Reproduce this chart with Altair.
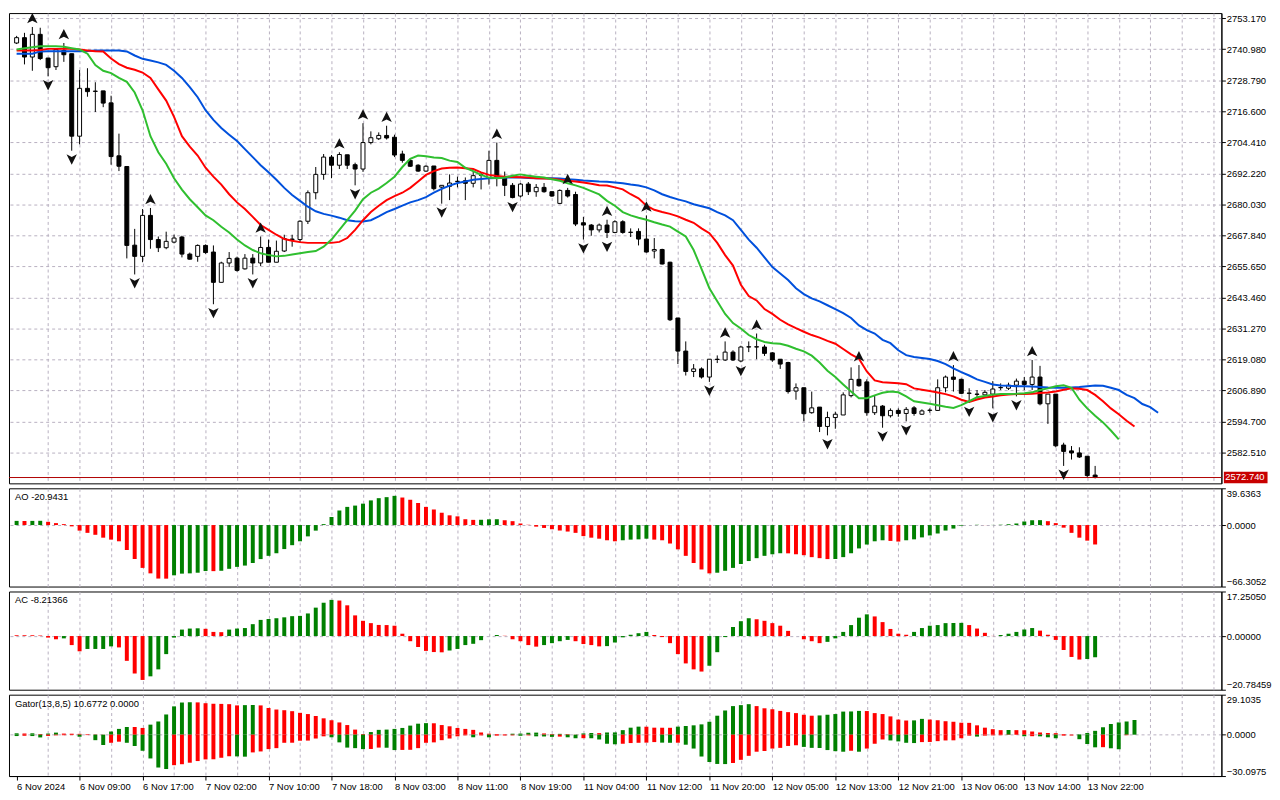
import json
import altair as alt
import pandas as pd

# ---------------- data (H1 bars, index 0..137) ----------------
opens = [
2743.4, 2745.5, 2737.9, 2746.8, 2737.5, 2734.1, 2740.5, 2739.2, 2706.8, 2725.6,
2724.5, 2724.6, 2719.9, 2699.1, 2694.9, 2664.0, 2659.6, 2675.7, 2666.2, 2663.0,
2665.2, 2667.2, 2660.5, 2659.6, 2663.9, 2661.3, 2649.4, 2657.0, 2658.9, 2654.7,
2658.9, 2657.0, 2663.1, 2657.3, 2661.7, 2666.2, 2666.2, 2673.4, 2684.6, 2691.8,
2698.6, 2695.4, 2699.5, 2695.6, 2693.9, 2704.3, 2705.8, 2707.1, 2706.4, 2699.8,
2697.3, 2695.4, 2693.1, 2695.1, 2686.8, 2687.1, 2689.0, 2689.3, 2688.3, 2691.6,
2690.3, 2697.3, 2690.6, 2687.5, 2683.3, 2688.0, 2685.0, 2686.7, 2685.0, 2680.4,
2685.5, 2683.9, 2672.8, 2671.9, 2670.0, 2671.9, 2669.0, 2673.2, 2669.0, 2669.4,
2666.4, 2661.7, 2662.3, 2657.3, 2635.4, 2622.4, 2614.4, 2615.4, 2612.2, 2619.1,
2618.9, 2622.0, 2618.5, 2624.0, 2624.0, 2624.0, 2621.7, 2619.2, 2617.9, 2606.7,
2608.0, 2598.2, 2600.4, 2592.8, 2596.3, 2597.3, 2604.9, 2611.3, 2610.3, 2598.2,
2600.8, 2597.0, 2599.1, 2597.9, 2600.1, 2597.6, 2599.1, 2599.1, 2608.0, 2612.2,
2611.3, 2605.8, 2605.5, 2605.2, 2605.5, 2608.0, 2607.8, 2609.0, 2610.6, 2609.3,
2612.2, 2601.7, 2605.5, 2585.5, 2583.2, 2582.4, 2581.1, 2573.7]
highs = [
2746.2, 2747.4, 2749.7, 2749.4, 2737.5, 2740.9, 2743.4, 2739.2, 2732.8, 2733.5,
2728.0, 2724.6, 2722.7, 2707.8, 2694.9, 2670.4, 2678.2, 2678.6, 2667.4, 2669.3,
2668.1, 2667.7, 2661.1, 2664.3, 2664.3, 2663.9, 2657.5, 2661.3, 2659.5, 2660.5,
2660.5, 2667.4, 2666.2, 2665.8, 2668.1, 2668.1, 2673.8, 2685.5, 2694.7, 2699.8,
2699.4, 2700.5, 2699.5, 2696.4, 2711.9, 2708.7, 2708.3, 2710.9, 2707.4, 2701.1,
2697.9, 2695.8, 2695.4, 2695.1, 2687.5, 2691.8, 2690.9, 2690.6, 2693.1, 2692.6,
2701.1, 2704.3, 2692.9, 2688.4, 2688.4, 2688.8, 2688.0, 2688.4, 2685.2, 2685.9,
2686.5, 2685.0, 2675.1, 2672.3, 2672.5, 2674.0, 2673.8, 2673.8, 2670.6, 2670.6,
2675.7, 2666.8, 2662.6, 2657.5, 2635.4, 2626.2, 2617.3, 2616.0, 2619.2, 2620.7,
2626.2, 2622.7, 2624.5, 2626.2, 2629.3, 2624.9, 2622.0, 2619.2, 2618.2, 2609.7,
2608.0, 2606.5, 2600.4, 2598.6, 2598.6, 2606.2, 2616.0, 2616.9, 2611.3, 2605.0,
2601.2, 2599.9, 2599.9, 2600.4, 2600.8, 2599.5, 2599.9, 2611.3, 2612.8, 2616.9,
2611.6, 2607.8, 2607.1, 2607.1, 2610.6, 2609.7, 2610.0, 2611.6, 2612.2, 2618.9,
2616.6, 2605.5, 2605.5, 2586.4, 2585.1, 2584.6, 2581.1, 2577.3]
lows = [
2743.0, 2735.0, 2732.5, 2736.7, 2730.3, 2732.8, 2736.0, 2701.1, 2703.6, 2722.3,
2716.3, 2718.2, 2695.6, 2693.1, 2658.8, 2652.5, 2657.3, 2662.6, 2661.3, 2662.4,
2664.7, 2659.2, 2658.3, 2657.5, 2660.6, 2640.8, 2649.4, 2655.4, 2653.6, 2654.4,
2652.5, 2655.8, 2657.3, 2657.3, 2661.3, 2663.4, 2664.9, 2672.3, 2682.0, 2689.7,
2690.3, 2693.9, 2693.9, 2687.5, 2692.8, 2703.6, 2705.3, 2705.5, 2698.6, 2696.4,
2694.7, 2692.8, 2692.8, 2685.5, 2680.3, 2681.7, 2686.7, 2681.7, 2686.7, 2685.9,
2687.8, 2687.1, 2683.3, 2682.4, 2682.7, 2683.7, 2683.0, 2684.6, 2683.0, 2680.1,
2682.7, 2671.5, 2666.2, 2667.7, 2669.0, 2666.8, 2668.7, 2668.5, 2667.2, 2663.9,
2661.1, 2658.8, 2656.4, 2634.2, 2617.3, 2612.8, 2612.2, 2611.6, 2610.3, 2617.7,
2618.5, 2618.5, 2618.0, 2622.0, 2619.2, 2620.5, 2618.2, 2615.4, 2605.7, 2603.3,
2594.8, 2597.8, 2590.6, 2589.3, 2591.9, 2597.3, 2604.2, 2608.4, 2597.0, 2597.3,
2592.3, 2596.3, 2596.6, 2594.8, 2597.0, 2597.3, 2598.2, 2598.9, 2606.2, 2606.5,
2605.5, 2602.0, 2603.7, 2604.9, 2599.9, 2607.1, 2607.1, 2604.6, 2607.1, 2607.1,
2601.1, 2593.8, 2584.6, 2577.3, 2579.8, 2580.4, 2572.8, 2572.4]
closes = [
2745.5, 2737.9, 2746.8, 2737.3, 2733.7, 2740.9, 2738.8, 2706.8, 2725.6, 2724.3,
2724.4, 2719.8, 2698.8, 2695.0, 2663.9, 2659.6, 2675.7, 2666.2, 2663.0, 2665.5,
2666.8, 2660.5, 2658.5, 2663.9, 2661.1, 2649.4, 2657.0, 2658.8, 2654.1, 2658.9,
2657.0, 2663.1, 2657.3, 2661.6, 2666.6, 2666.4, 2673.4, 2684.6, 2691.8, 2698.6,
2695.4, 2699.6, 2695.4, 2693.9, 2704.3, 2706.2, 2707.1, 2706.1, 2699.4, 2697.3,
2695.0, 2693.1, 2695.0, 2686.2, 2687.5, 2688.4, 2689.1, 2688.3, 2691.3, 2691.5,
2697.3, 2690.6, 2687.5, 2682.7, 2688.0, 2685.0, 2686.7, 2685.0, 2683.3, 2685.5,
2683.3, 2672.3, 2671.9, 2670.0, 2671.9, 2669.0, 2673.2, 2669.0, 2669.1, 2666.4,
2661.3, 2662.3, 2656.6, 2634.7, 2622.4, 2614.4, 2615.4, 2612.2, 2619.2, 2619.2,
2622.0, 2618.9, 2624.0, 2624.1, 2624.1, 2621.5, 2618.9, 2617.3, 2606.5, 2608.0,
2597.8, 2600.1, 2592.8, 2596.3, 2597.6, 2605.2, 2611.3, 2608.8, 2598.2, 2600.8,
2597.0, 2599.1, 2597.9, 2599.5, 2597.9, 2598.9, 2599.2, 2608.0, 2612.2, 2611.3,
2605.8, 2605.9, 2605.4, 2606.2, 2607.5, 2608.1, 2609.0, 2610.6, 2609.3, 2612.2,
2601.7, 2605.5, 2585.2, 2583.0, 2582.4, 2580.8, 2573.5, 2572.74]

# Alligator lines as displayed (already shifted forward)
jaw = [
2739.2, 2739.2, 2739.2, 2740.1, 2740.2, 2740.2, 2740.2, 2740.2, 2740.2, 2740.3,
2740.5, 2740.5, 2740.5, 2740.5, 2740.1, 2738.5, 2737.2, 2736.5, 2735.8, 2734.8,
2732.5, 2729.7, 2726.1, 2722.1, 2717.0, 2713.2, 2710.0, 2707.4, 2704.9, 2701.7,
2698.6, 2695.4, 2692.6, 2689.7, 2686.5, 2683.7, 2681.4, 2679.1, 2677.3, 2676.3,
2675.6, 2674.8, 2673.8, 2673.4, 2673.3, 2673.8, 2675.3, 2677.0, 2678.2, 2679.5,
2680.8, 2681.7, 2682.9,
2684.6, 2686.1, 2687.4, 2688.4, 2689.0, 2689.7, 2690.0, 2690.3, 2690.4, 2690.55,
2690.55, 2690.55, 2690.4, 2690.3, 2690.3, 2690.3, 2690.2, 2689.9, 2689.7, 2689.4,
2689.2, 2689.0, 2688.9, 2688.6, 2688.3, 2687.8, 2687.4, 2686.7, 2685.5, 2684.0,
2682.9, 2682.0, 2681.2, 2680.1, 2679.3, 2678.5, 2677.0, 2675.7, 2673.8, 2670.0,
2666.2, 2663.0, 2659.2, 2655.4, 2652.9, 2650.3, 2647.1, 2644.8,
2643.1, 2641.9, 2640.4, 2638.9, 2637.3, 2635.4,
2632.5, 2630.6, 2629.3, 2626.8, 2625.5, 2622.7, 2620.8, 2620.1, 2619.7, 2619.3,
2618.5, 2617.3, 2615.6, 2614.1, 2612.8, 2611.3, 2610.3, 2609.3, 2608.9, 2608.8,
2608.6, 2608.6, 2608.5, 2608.3, 2608.1, 2608.0, 2608.0, 2608.1, 2608.3, 2608.6,
2608.9, 2608.8, 2608.0, 2607.1, 2605.2, 2603.9, 2601.6, 2600.4, 2598.2]
teeth = [
2740.5, 2740.5, 2740.5, 2740.7, 2741.1, 2741.1, 2741.1, 2741.1, 2740.85, 2740.5,
2740.2, 2740.1, 2737.3, 2735.1, 2733.7, 2732.9, 2731.8, 2729.7, 2725.2, 2720.8,
2714.4, 2706.8, 2702.7, 2699.2, 2694.4, 2690.9, 2687.8, 2684.0, 2680.8, 2678.2,
2675.1, 2671.9, 2670.0, 2668.1, 2666.4, 2665.7, 2665.2, 2664.9, 2664.9, 2664.9,
2664.9, 2665.3, 2666.8, 2670.0, 2673.8, 2677.0, 2679.5, 2681.7, 2683.3, 2684.6,
2686.5, 2689.0, 2691.6,
2693.1, 2694.1, 2694.4, 2694.5, 2694.2, 2693.9, 2692.6, 2691.6, 2691.2, 2690.9,
2690.8, 2690.7, 2690.55, 2690.3, 2690.2, 2690.05, 2689.7, 2689.3, 2689.0, 2688.6,
2688.1, 2687.5, 2687.4, 2686.7, 2685.9, 2684.0, 2682.4, 2679.5, 2677.9, 2677.0,
2676.3, 2675.3, 2674.0, 2672.8, 2670.6, 2668.7, 2664.9, 2660.1, 2656.0, 2648.4,
2644.0, 2642.3, 2638.9, 2637.0, 2634.7, 2632.9, 2631.4, 2630.0,
2628.7, 2627.7, 2626.4, 2625.3, 2623.2, 2621.1, 2619.4, 2614.4, 2610.9, 2610.2,
2610.0, 2609.8, 2609.4, 2607.75, 2607.2, 2606.7, 2606.1, 2605.5, 2604.6, 2603.3,
2602.4, 2603.4, 2604.2, 2604.6, 2605.0, 2605.3, 2605.5, 2605.5, 2605.6, 2605.9,
2606.1, 2606.5, 2607.2, 2607.75, 2607.6, 2607.1, 2605.2, 2602.7, 2599.9, 2597.6,
2595.05, 2592.8]
lips = [
2740.85, 2741.35, 2741.7, 2742.1, 2742.1, 2742.1, 2741.9, 2741.35, 2740.85, 2739.2,
2734.75, 2732.5, 2731.6, 2729.7, 2728.15, 2723.95, 2717.0, 2706.8, 2700.5, 2696.0,
2690.3, 2685.85, 2682.05, 2678.9, 2675.7, 2673.8, 2671.25, 2669.0, 2666.2, 2663.9,
2662.1, 2660.8, 2660.1, 2659.6, 2659.8, 2660.3, 2660.8, 2661.3, 2661.7, 2663.4,
2666.2, 2670.0, 2673.8, 2677.6, 2682.05, 2684.6, 2686.2, 2688.4, 2690.9, 2694.7,
2697.9, 2699.2, 2698.9,
2698.4, 2698.2, 2697.2, 2696.65, 2694.4, 2693.1, 2691.6, 2690.55, 2690.3, 2690.55,
2691.3, 2691.8, 2691.3, 2690.9, 2690.55, 2689.9, 2689.3, 2688.3, 2687.5, 2686.5,
2685.2, 2683.95, 2681.4, 2679.5, 2677.0, 2675.7, 2674.8, 2674.0, 2673.0, 2672.1,
2671.3, 2669.35, 2667.4, 2662.1, 2654.7, 2647.1, 2642.0, 2637.0, 2633.4, 2631.3,
2628.7, 2627.05, 2626.0, 2625.5, 2625.3, 2624.5, 2623.3, 2622.3,
2620.6, 2617.9, 2614.7, 2612.2, 2609.3, 2606.5, 2603.9, 2603.9, 2605.0, 2606.0,
2606.5, 2606.2, 2604.6, 2602.7, 2602.2, 2601.7, 2601.15, 2600.5, 2600.1, 2601.15,
2602.7, 2604.3, 2604.8, 2605.3, 2605.5, 2605.5, 2605.6, 2605.85, 2606.2, 2607.1,
2607.75, 2608.6, 2609.0, 2608.0, 2603.3, 2599.9, 2597.0, 2594.4, 2591.2, 2587.7]

frac_up = [2, 6, 17, 31, 41, 44, 47, 61, 70, 75, 80, 90, 94, 107, 119, 129]
frac_dn = [4, 7, 15, 25, 30, 43, 54, 63, 72, 75, 88, 92, 103, 110, 113, 121, 124, 127, 133]

ao = [
4.5, 4.4, 4.5, 4.6, 3.5, 2.1, 1.0, -1.4, -6.0, -8.4,
-10.5, -13.6, -15.7, -17.5, -26.9, -36.7, -46.2, -52.1, -57.7, -57.8,
-54.2, -52.4, -52.1, -51.4, -49.6, -49.7, -49.3, -47.2, -45.1, -43.7,
-40.9, -36.7, -33.2, -30.4, -25.9, -21.7, -17.5, -12.2, -6.0, 1.0,
8.7, 15.7, 19.6, 21.0, 23.1, 26.6, 29.0, 30.1, 31.5, 29.7,
27.3, 23.8, 19.6, 16.8, 13.3, 10.5, 9.4, 6.3, 5.6, 5.7,
6.2, 6.3, 5.2, 4.2, 1.7, 0.3, -1.7, -3.1, -4.5, -5.9,
-7.0, -8.4, -11.9, -13.6, -14.7, -16.4, -17.5, -16.4, -15.7, -15.4,
-14.7, -15.7, -16.4, -19.9, -26.2, -33.2, -40.9, -47.9, -52.1, -51.4,
-49.3, -46.2, -42.0, -38.8, -35.7, -33.2, -31.5, -30.4, -30.5, -31.5,
-32.5, -34.6, -35.7, -36.7, -36.6, -34.6, -30.4, -25.2, -21.0, -17.5,
-16.4, -17.1, -17.8, -16.4, -15.4, -13.3, -11.2, -9.1, -5.9, -3.8,
-0.7, 0.0, 0.3, 0.1, 0.15, 0.4, 0.9, 1.7, 3.8, 5.2,
5.3, 4.2, 2.1, -2.8, -8.4, -13.6, -16.8, -20.9431]
ao_col = ("GRGGRRRRRR" "RRRRRRRRRR" "GGGGGRGGGG" "GGGGGGGGGG" "GGGGGGGGGR"
          "RRRRRRRRRG" "GGRRRRRRRR" "RRRRRRRGGG" "GRRRRRRRRG" "GGGGGGGGRR"
          "RRRRGGGGGG" "GRRGGGGGGG" "GGGRGGGGGG" "GRRRRRRR")

ac = [
0.3, 0.3, 0.3, 0.2, -0.6, -1.25, -0.9, -3.5, -5.9, -5.0,
-5.0, -5.0, -4.0, -4.4, -9.6, -14.5, -17.0, -15.6, -12.9, -7.0,
-0.6, 2.5, 2.9, 3.0, 2.8, 1.6, 1.5, 2.5, 2.9, 3.1,
4.6, 6.25, 6.6, 6.9, 7.25, 7.7, 7.8, 8.75, 11.0, 12.9,
14.0, 13.75, 11.9, 8.0, 5.9, 5.0, 4.3, 4.25, 4.0, 0.9,
-2.0, -4.25, -5.75, -6.2, -6.3, -5.6, -5.0, -3.5, -3.0, -1.6,
0.0, 0.4, 0.1, -1.25, -2.0, -3.5, -4.1, -3.5, -2.75, -2.0,
-1.5, -2.0, -3.1, -3.5, -4.0, -3.9, -2.5, -0.5, 0.5, 1.1,
1.6, 0.4, -0.4, -2.75, -7.0, -10.6, -12.9, -13.75, -11.5, -6.25,
-0.4, 3.5, 5.75, 6.9, 6.5, 5.9, 5.0, 4.0, 2.0, 0.0,
-1.25, -2.0, -2.75, -2.25, -0.9, 1.6, 4.25, 7.1, 8.4, 7.6,
5.4, 2.75, 0.9, 0.5, 1.6, 3.1, 4.0, 4.25, 5.0, 5.05,
5.1, 4.25, 2.9, 1.25, 0.05, 0.4, 0.9, 1.6, 2.5, 3.1,
2.1, 0.5, -1.5, -5.4, -8.1, -9.1, -8.9, -8.21366]
ac_col = ("RRRRRRGRRG" "GGGRRRRGGG" "GGGGRRRGGG" "GGGGGGGGGG" "GRRRRRRRRR"
          "RRRRRGGGGG" "GGRRRRRGGG" "GRRRRGGGGG" "GRRRRRRRGG" "GGGGRRRRRR"
          "RRRGGGGGGR" "RRRRGGGGGG" "GRRRRGGGGG" "RRRRRRGG")

gator_up = [
1.0, 0.9, 1.0, 0.5, 0.8, 1.5, 0.8, 0.7, 0.6, 0.3,
0.2, 0.1, 2.3, 4.2, 5.6, 5.5, 4.9, 7.3, 9.6, 14.7,
20.6, 23.4, 23.6, 23.5, 22.9, 22.5, 22.4, 22.2, 21.3, 21.5,
21.6, 21.3, 19.4, 18.3, 17.8, 17.1, 15.9, 15.0, 13.6, 11.9,
10.5, 8.9, 7.0, 3.7, 0.5, 1.9, 3.5, 3.7, 4.2, 4.9,
6.6, 8.0, 8.4, 8.3, 7.0, 6.1, 4.9, 4.2, 3.5, 1.6,
0.7, 0.5, 0.3, 0.7, 0.8, 1.4, 1.5, 0.9, 0.5, 0.6,
0.45, 0.1, 0.9, 1.2, 1.15, 1.6, 1.65, 3.3, 5.1, 5.85,
5.8, 5.1, 5.05, 5.0, 5.85, 6.3, 6.8, 7.5, 9.4, 13.8,
17.6, 20.8, 21.5, 22.2, 20.8, 19.2, 18.5, 17.3, 16.4, 15.7,
14.5, 13.8, 14.0, 14.5, 15.0, 16.8, 16.9, 17.3, 17.2, 15.7,
15.0, 13.3, 11.0, 10.3, 10.4, 11.5, 11.0, 10.5, 9.8, 9.4,
8.7, 8.6, 6.8, 5.1, 4.0, 3.3, 3.4, 3.3, 3.2, 2.3,
1.6, 1.2, 1.1, 0.5, 0.1, 0.3, 1.2, 2.8, 5.4, 7.75,
8.9, 9.6, 10.6772]
gator_up_col = ("GRGRGGRRRR" "RRGGGRRGGG" "GGGRRRRRRG" "GRRRRRRRRR" "RRRRRGGGGG"
                "GGGRRRRRRR" "RRRGGGGRRG" "RRGGRGGGGG" "RRRRGGGGGG" "GGGGRRRRRR"
                "RRGGGGGGRR" "RRRRGGRRRR" "RRRRRRGRRR" "RRRRRGGGGG" "GGG")
gator_dn = [
-1.0, -0.8, -1.0, -2.0, -0.9, -0.5, -0.4, -0.3, -1.5, -0.3,
-4.0, -7.5, -5.9, -5.1, -5.9, -8.2, -11.7, -17.3, -23.9, -25.0,
-22.2, -21.5, -20.4, -19.2, -18.0, -17.9, -16.8, -15.7, -15.8, -16.0,
-12.9, -12.2, -10.5, -9.8, -5.9, -5.85, -4.4, -4.3, -2.8, -1.2,
-1.9, -5.6, -9.4, -9.8, -10.5, -10.4, -9.4, -9.5, -11.2, -11.1,
-11.0, -9.8, -5.9, -5.6, -4.0, -2.8, -1.2, -0.5, -1.9, -0.5,
-1.9, -0.7, -0.6, -0.5, -0.8, -0.5, -1.2, -1.3, -1.6, -1.4,
-1.9, -2.6, -2.55, -2.6, -3.5, -6.6, -7.0, -6.6, -6.1, -5.9,
-5.8, -5.4, -5.8, -5.9, -5.85, -7.3, -10.1, -15.9, -19.9, -21.3,
-21.4, -20.6, -18.3, -15.4, -12.4, -11.9, -10.1, -9.6, -8.2, -7.7,
-8.9, -9.6, -9.7, -11.2, -12.0, -12.4, -11.7, -12.4, -10.1, -6.6,
-3.5, -4.2, -4.9, -5.9, -6.1, -5.4, -5.3, -4.7, -4.2, -4.1,
-2.6, -0.7, -1.4, -0.7, -0.5, -0.4, -0.2, -0.1, -1.2, -1.1,
-1.2, -1.9, -2.6, -0.7, -0.6, -3.3, -6.8, -9.2, -9.1, -9.9,
-10.6, -0.4]
gator_dn_col = ("GRGGRRRRGR" "GGRRGGGGGG" "RRRRRRRRGG" "RRRRRRRRRR" "GGGGGRRGGR"
                "RRRRRRRRGR" "GRRRGRGGGR" "GGRGGGGRRR" "RRGGRGGGGG" "GRRRRRRRRR"
                "GGGGGGRGRR" "RGGGGRRRRR" "RRGRRRRRGR" "GGGRRGGGRG" "GR")

price_ticks = [2582.510, 2594.700, 2606.890, 2619.080, 2631.270, 2643.460, 2655.650,
               2667.840, 2680.030, 2692.220, 2704.410, 2716.600, 2728.790, 2740.980, 2753.170]
time_labels = ["6 Nov 2024", "6 Nov 09:00", "6 Nov 17:00", "7 Nov 02:00", "7 Nov 10:00",
               "7 Nov 18:00", "8 Nov 03:00", "8 Nov 11:00", "8 Nov 19:00", "11 Nov 04:00",
               "11 Nov 12:00", "11 Nov 20:00", "12 Nov 05:00", "12 Nov 13:00", "12 Nov 21:00",
               "13 Nov 06:00", "13 Nov 14:00", "13 Nov 22:00"]
bid = 2572.74
ao_range = [-66.3052, 39.6363]
ac_range = [-20.78459, 17.25050]
gator_range = [-30.0975, 29.1035]

# ---------------- layout / style ----------------
W = 1222
H_MAIN, H_AO, H_AC, H_G = 474, 99, 99, 82
XDOM = [-0.3375, 152.41]
PRICE_DOM = [2570.45, 2755.16]
FONT = "Liberation Sans"
FS = 9.5
GRID = "#b8b0c0"
GREEN, RED = "#008000", "#ff0000"
col_scale = alt.Scale(domain=["G", "R"], range=[GREEN, RED])

xs = alt.Scale(domain=XDOM, nice=False, zero=False)
ys = alt.Scale(domain=PRICE_DOM, nice=False, zero=False)

grid_x = list(range(4, 153, 4))
hidden_x = alt.Axis(values=grid_x, labels=False, ticks=False, domain=False, grid=True,
                    gridDash=[3, 3], gridColor=GRID, title=None)


def X(axis=hidden_x):
    return alt.X("i:Q", scale=xs, axis=axis)


price_axis = alt.Axis(orient="right", values=price_ticks, format=".3f", grid=True,
                      gridDash=[3, 3], gridColor=GRID, tickSize=4, tickColor="black",
                      domainColor="black", labelPadding=1, title=None)


def PY(field):
    return alt.Y(f"{field}:Q", scale=ys, axis=price_axis)


# ---------------- main panel ----------------
cdf = pd.DataFrame({"i": range(len(closes)), "o": opens, "h": highs, "l": lows, "c": closes})

wicks = alt.Chart(cdf).mark_rule(color="black", strokeWidth=1).encode(
    x=X(), y=PY("l"), y2="h:Q")
bodies = alt.Chart(cdf).mark_bar(width=4, stroke="black", strokeWidth=1).encode(
    x=X(), y=PY("o"), y2="c:Q",
    fill=alt.condition("datum.c >= datum.o", alt.value("white"), alt.value("black")))


def line(vals, color):
    df = pd.DataFrame({"i": range(len(vals)), "v": vals})
    return alt.Chart(df).mark_line(color=color, strokeWidth=2).encode(x=X(), y=PY("v"))


jaw_l = line(jaw, "#0050dc")
teeth_l = line(teeth, "#ff0000")
lips_l = line(lips, "#2fbf2f")

UP = "M0,-2.7L1,-0.7L0,-1.2L-1,-0.7Z"
DN = "M0,2.7L1,0.7L0,1.2L-1,0.7Z"
fu = pd.DataFrame({"i": frac_up, "p": [highs[k] for k in frac_up]})
fd = pd.DataFrame({"i": frac_dn, "p": [lows[k] for k in frac_dn]})
frac_u = alt.Chart(fu).mark_point(shape=UP, filled=True, size=110, color="#111111",
                                  opacity=1, strokeWidth=0).encode(x=X(), y=PY("p"))
frac_d = alt.Chart(fd).mark_point(shape=DN, filled=True, size=110, color="#111111",
                                  opacity=1, strokeWidth=0).encode(x=X(), y=PY("p"))

bid_df = pd.DataFrame({"p": [bid], "t": [f"{bid:.3f}"]})
bid_line = alt.Chart(bid_df).mark_rule(color="#b00000", strokeWidth=1).encode(y=PY("p"))
bid_box = alt.Chart(bid_df).mark_point(
    shape="M-1,-0.26L1,-0.26L1,0.26L-1,0.26Z", filled=True, size=44 * 44,
    color="#c80000", opacity=1, strokeWidth=0).encode(x=alt.value(W + 24.5), y=PY("p"))
bid_txt = alt.Chart(bid_df).mark_text(align="left", baseline="middle", color="white",
                                      font=FONT, fontSize=FS).encode(
    x=alt.value(W + 4), y=PY("p"), text="t:N")

main = alt.layer(wicks, bodies, jaw_l, teeth_l, lips_l, bid_line, frac_u, frac_d,
                 bid_box, bid_txt).properties(width=W, height=H_MAIN)


# ---------------- indicator panels ----------------
def sub_axis(rng, fmt):
    return alt.Axis(orient="right", values=[rng[0], 0, rng[1]], format=fmt, grid=True,
                    gridDash=[3, 3],
                    gridColor={"condition": {"test": "datum.value == 0", "value": GRID},
                               "value": "transparent"},
                    labelFlush=True, tickSize=4, tickColor="black", domainColor="black",
                    labelPadding=1, title=None)


def label(txt):
    return alt.Chart(pd.DataFrame({"t": [txt]})).mark_text(
        align="left", baseline="middle", font=FONT, fontSize=FS, color="black").encode(
        x=alt.value(6), y=alt.value(9), text="t:N")


def hist(vals, cols, rng, fmt, xaxis=hidden_x):
    n = min(len(vals), len(cols))
    df = pd.DataFrame({"i": range(n), "v": vals[:n], "c": list(cols[:n])})
    return alt.Chart(df).mark_bar(width=4).encode(
        x=X(xaxis),
        y=alt.Y("v:Q", scale=alt.Scale(domain=rng, nice=False, zero=False),
                axis=sub_axis(rng, fmt)),
        y2=alt.datum(0),
        color=alt.Color("c:N", scale=col_scale, legend=None))


ao_chart = alt.layer(hist(ao, ao_col, ao_range, ".4f"),
                     label(f"AO {ao[-1]:.4f}")).properties(width=W, height=H_AO)
ac_chart = alt.layer(hist(ac, ac_col, ac_range, ".5f"),
                     label(f"AC {ac[-1]:.5f}")).properties(width=W, height=H_AC)

label_expr = ("(datum.value % 8 == 0 && datum.value <= 136) ? "
              + json.dumps(time_labels) + "[datum.value / 8] : ''")
bottom_x = alt.Axis(
    values=list(range(0, 153, 4)), labelExpr=label_expr, labelAlign="left", labelAngle=0,
    labelBaseline="top", labelFlush=False, labelOverlap=False, labelPadding=2,
    tickSize=4,
    tickColor={"condition": {"test": "datum.value % 8 == 0 && datum.value <= 136",
                             "value": "black"}, "value": "transparent"},
    grid=True, gridDash=[3, 3],
    gridColor={"condition": {"test": "datum.value == 0", "value": "transparent"},
               "value": GRID},
    domainColor="black", title=None)

g_up = hist(gator_up, gator_up_col, gator_range, ".4f", bottom_x)
g_dn = hist(gator_dn, gator_dn_col, gator_range, ".4f", bottom_x)
g_chart = alt.layer(g_up, g_dn,
                    label(f"Gator(13,8,5) {gator_up[-1]:.4f} 0.0000")).properties(
    width=W, height=H_G)

chart = alt.vconcat(main, ao_chart, ac_chart, g_chart, spacing=3).configure_view(
    stroke="black", strokeWidth=1).configure_axis(
    labelFont=FONT, labelFontSize=FS, labelColor="black").properties(
    padding={"left": 0, "top": 1, "right": 0, "bottom": 0}, background="white")

chart.save("out.html", embed_options={"renderer": "svg", "actions": False})
